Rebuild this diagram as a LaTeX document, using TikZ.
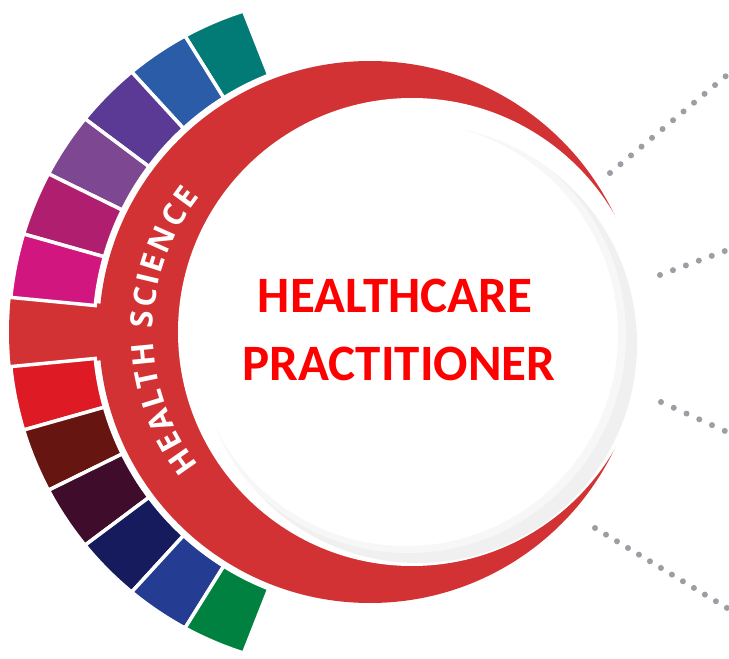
\documentclass[tikz,border=0pt]{standalone}
\usepackage{fontspec}
\usetikzlibrary{decorations.text}
\newfontfamily\titlefont{Carlito}
\newfontfamily\hsfont{Open Sans}
\definecolor{crescent}{HTML}{D23234}
\definecolor{titlered}{HTML}{FF0000}
\definecolor{dotgray}{HTML}{9D9EA3}
\definecolor{segA}{HTML}{027B76}
\definecolor{segB}{HTML}{2A5CA8}
\definecolor{segC}{HTML}{5B3A96}
\definecolor{segD}{HTML}{7E4791}
\definecolor{segE}{HTML}{B01F6F}
\definecolor{segF}{HTML}{D2167F}
\definecolor{segG}{HTML}{DE1B24}
\definecolor{segH}{HTML}{661510}
\definecolor{segI}{HTML}{3F0C2B}
\definecolor{segJ}{HTML}{151B5C}
\definecolor{segK}{HTML}{243D93}
\definecolor{segL}{HTML}{008140}
\tikzset{
  segment/.style={draw=white, line width=3.5pt, line join=miter},
  titletext/.style={font=\titlefont\bfseries\fontsize{51}{51}\selectfont, text=titlered, inner sep=0pt, anchor=base},
  dotline/.style={draw=dotgray, line width=6pt, line cap=round, dash pattern=on 0pt off #1pt}
}
\begin{document}
\begin{tikzpicture}[x=1pt,y=1pt,
  declare function={ro(\t)=10*(-2.4*cos(\t)+sqrt(1135.69-5.76*sin(\t)^2));}]
\useasboundingbox (-370,-327) rectangle (359,332);
\fill[white] (-370,-327) rectangle (359,332);
% red crescent base
\fill[crescent] (0,0) circle[radius=271];
% red tab
\fill[crescent] plot[domain=174:186, samples=12] (\x:{ro(\x)}) -- (186:262) arc[start angle=186, end angle=174, radius=262] -- cycle;
% coloured segments
\foreach \a/\b/\c in {111.5/122/segA, 122/132.5/segB, 132.5/143.2/segC, 143.2/153.8/segD, 153.8/164.2/segE, 164.2/174.5/segF,
  185.5/195.8/segG, 195.8/206.2/segH, 206.2/216.8/segI, 216.8/227.5/segJ, 227.5/238/segK, 238/248.5/segL}{
  \filldraw[segment, fill=\c] plot[domain=\a:\b, samples=24] (\x:{ro(\x)}) -- (\b:276) arc[start angle=\b, end angle=\a, radius=276] -- cycle;
}
% inner cut
\fill[white] (42,0) circle[radius=234];
\fill[black!6] (48,-12) circle[radius=219];
\fill[white, opacity=0.5] (38,-3) circle[radius=218];
\fill[white] (36,-2) circle[radius=212];
% arc text
\path[decorate, decoration={text along path, text={|\hsfont\bfseries\fontsize{31}{31}\selectfont\color{white}|HEALTH SCIENCE}, text align=fit to path}]
  (218:217) arc[start angle=218, end angle=141.5, radius=217];
% titles
\node[titletext] (t1) at (25,20) {HEALTHCARE};
\node[titletext] (t2) at (29,-48) {PRACTITIONER};
% dotted lines
\coordinate (d1s) at (240,159);  \coordinate (d1e) at (356.3,256.3);
\coordinate (d2s) at (290,57);   \coordinate (d2e) at (355.2,81.1);
\coordinate (d3s) at (291,-70);  \coordinate (d3e) at (355.2,-99.1);
\coordinate (d4s) at (225,-196); \coordinate (d4e) at (357.2,-276.1);
\draw[dotline=13.7] (d1s) -- (d1e);
\draw[dotline=13.8] (d2s) -- (d2e);
\draw[dotline=14.0] (d3s) -- (d3e);
\draw[dotline=12.85] (d4s) -- (d4e);
\end{tikzpicture}
\end{document}
